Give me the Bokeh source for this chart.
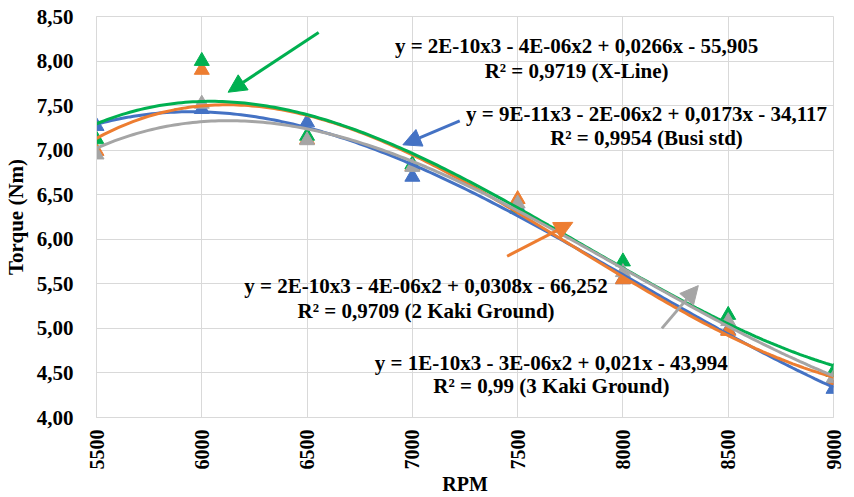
import math
import numpy as np
from bokeh.plotting import figure
from bokeh.models import (Range1d, FixedTicker, CustomJSTickFormatter, Arrow,
                          NormalHead, Label)
from bokeh.embed import file_html
from bokeh.resources import INLINE

# ---------------- data ----------------
rpm = [5500, 6000, 6500, 7000, 7500, 8000, 8500, 9000]
busi_std = [7.27, 7.46, 7.31, 6.70, 6.36, 5.55, 4.98, 4.32]
kaki2 = [6.99, 7.90, 7.12, 6.82, 6.45, 5.55, 4.97, 4.42]
xline = [7.12, 8.00, 7.16, 6.84, 6.34, 5.75, 5.15, 4.51]
kaki3 = [6.95, 7.52, 7.11, 6.81, 6.40, 5.63, 5.08, 4.44]

series_names = ["Busi std", "2 Kaki Ground", "X-Line", "3 Kaki Ground"]
series_values = [busi_std, kaki2, xline, kaki3]
series_colors = ["#4472C4", "#ED7D31", "#00B050", "#A5A5A5"]

y_ticks = [4.0, 4.5, 5.0, 5.5, 6.0, 6.5, 7.0, 7.5, 8.0, 8.5]
x_ticks = [5500, 6000, 6500, 7000, 7500, 8000, 8500, 9000]

eq_lines = [
    "y = 2E-10x3 - 4E-06x2 + 0,0266x - 55,905",
    "R² = 0,9719 (X-Line)",
    "y = 9E-11x3 - 2E-06x2 + 0,0173x - 34,117",
    "R² = 0,9954 (Busi std)",
    "y = 2E-10x3 - 4E-06x2 + 0,0308x - 66,252",
    "R² = 0,9709 (2 Kaki Ground)",
    "y = 1E-10x3 - 3E-06x2 + 0,021x - 43,994",
    "R² = 0,99 (3 Kaki Ground)",
]
eq_x = [7780, 7780, 8112, 8112, 7065, 7065, 7660, 7660]
eq_y = [8.17, 7.89, 7.41, 7.135, 5.48, 5.20, 4.61, 4.355]

# arrows: (x_start, y_start, x_end, y_end, color)
arrows = [
    (6555, 8.32, 6125, 7.65, "#00B050"),
    (7225, 7.33, 6955, 7.06, "#4472C4"),
    (7450, 5.81, 7762, 6.19, "#ED7D31"),
    (8185, 5.00, 8358, 5.48, "#A5A5A5"),
]

FONT = "Liberation Serif"

p = figure(frame_width=737, frame_height=401, output_backend="svg",
           toolbar_location=None, x_range=Range1d(5500, 9000),
           y_range=Range1d(4.0, 8.5), min_border_left=89, min_border_top=16,
           min_border_right=12, min_border_bottom=55)
p.background_fill_color = "white"
p.border_fill_color = "white"
p.outline_line_color = "#d9d9d9"

for ax in (p.xaxis[0], p.yaxis[0]):
    ax.axis_line_color = "#d9d9d9"
    ax.major_tick_line_color = None
    ax.minor_tick_line_color = None
    ax.major_label_text_font = FONT
    ax.major_label_text_font_style = "bold"
    ax.major_label_text_color = "black"
    ax.axis_label_text_font = FONT
    ax.axis_label_text_font_style = "bold"
    ax.axis_label_text_color = "black"

p.yaxis.major_label_text_font_size = "21px"
p.yaxis.axis_label_text_font_size = "21px"
p.xaxis.major_label_text_font_size = "20px"
p.xaxis.axis_label_text_font_size = "20px"
p.xaxis.ticker = FixedTicker(ticks=x_ticks)
p.yaxis.ticker = FixedTicker(ticks=y_ticks)
p.yaxis.formatter = CustomJSTickFormatter(code="return tick.toFixed(2).replace('.', ',')")
p.xaxis.major_label_orientation = math.pi / 2
p.xaxis.major_label_standoff = 6
p.yaxis.major_label_standoff = 17
p.xaxis.axis_label = "RPM"
p.yaxis.axis_label = "Torque (Nm)"
p.xaxis.axis_label_standoff = 0
p.yaxis.axis_label_standoff = 6

p.grid.grid_line_color = "#d9d9d9"
p.grid.grid_line_width = 1

xs_fit = np.linspace(5500, 9000, 200)
for name, vals, col in zip(series_names, series_values, series_colors):
    p.scatter(rpm, vals, marker="triangle", size=15, fill_color=col,
              line_color=col)
for name, vals, col in zip(series_names, series_values, series_colors):
    poly = np.polynomial.Polynomial.fit(rpm, vals, 3)
    p.line(xs_fit, poly(xs_fit), line_color=col, line_width=3)

for xs, ys, xe, ye, col in arrows:
    p.add_layout(Arrow(x_start=xs, y_start=ys, x_end=xe, y_end=ye,
                       line_color=col, line_width=3,
                       end=NormalHead(size=18, fill_color=col, line_color=col)))

for tx, ty, tt in zip(eq_x, eq_y, eq_lines):
    p.add_layout(Label(x=tx, y=ty, text=tt, text_font=FONT,
                       text_font_style="bold", text_font_size="21px",
                       text_align="center", text_baseline="middle",
                       text_color="black"))

open("out.html", "w").write(file_html(p, INLINE))
